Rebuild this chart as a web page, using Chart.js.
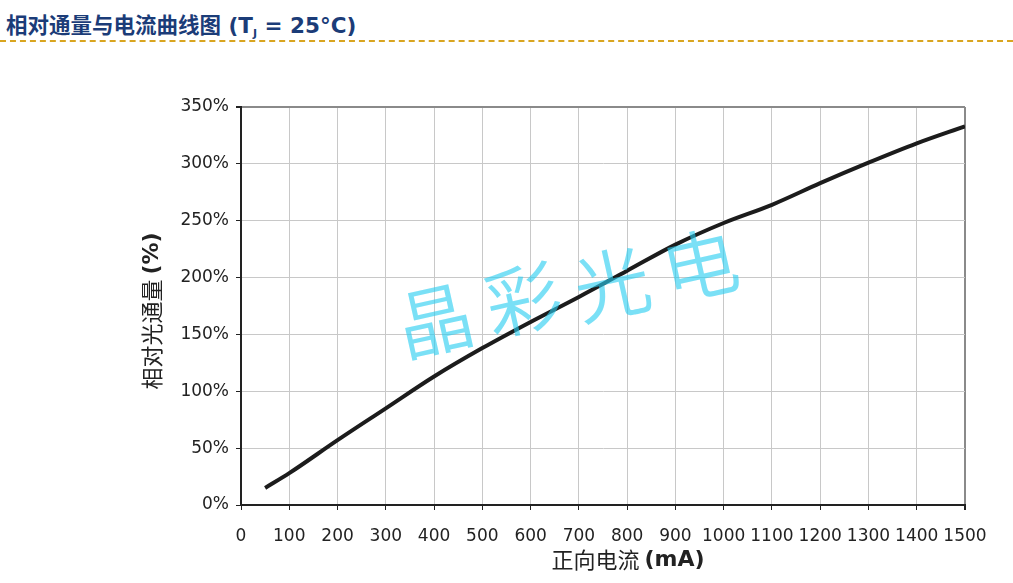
<!DOCTYPE html>
<html>
<head>
<meta charset="utf-8">
<script src="https://cdn.jsdelivr.net/npm/chart.js@4.4.0/dist/chart.umd.min.js"></script>
<style>
  html, body { margin: 0; padding: 0; background: #fff; }
  #wrap { position: relative; width: 1013px; height: 583px; overflow: hidden; }
  #title {
    position: absolute; left: 6px; top: 8px;
    font: bold 21.5px "DejaVu Sans", "Noto Sans CJK SC", sans-serif;
    color: #1b3c78; white-space: nowrap;
  }
  #title sub { font-size: 11px; vertical-align: -4px; }
  #rule {
    position: absolute; left: 0; top: 40px; width: 1013px; height: 0;
    border-top: 2px dashed #d9a520;
  }
  #chart { position: absolute; left: 0; top: 0; }
</style>
</head>
<body>
<div id="wrap">
  <div id="title">相对通量与电流曲线图 (T<sub>J</sub> = 25°C)</div>
  <div id="rule"></div>
  <canvas id="chart" width="1013" height="583"></canvas>
</div>
<script>
// forward current (mA) and relative flux (%)
const currentMA = [50, 100, 200, 300, 400, 500, 600, 700, 800, 900, 1000, 1100, 1200, 1300, 1400, 1500];
const relFlux = [15, 28, 57, 85, 113, 138, 161, 183, 206, 229, 248, 264, 283, 301, 318, 333];

const xTitle = ['正向电流 ', '(mA)'];
const yTitle = ['相对光通量 ', '(%)'];
const watermark = ['晶', '彩', '光', '电'];

const tickFont = { family: '"DejaVu Sans", Verdana, sans-serif', size: 17 };

// axis titles (regular chinese + bold unit) and the watermark
const extrasPlugin = {
  id: 'extras',
  afterDraw(chart) {
    const ctx = chart.ctx;

    // watermark
    ctx.save();
    ctx.fillStyle = 'rgba(40, 205, 240, 0.62)';
    ctx.font = '350 76px "Noto Sans CJK SC", sans-serif';
    ctx.textAlign = 'center';
    ctx.textBaseline = 'middle';
    const centers = [[435, 320], [523, 299], [612, 284], [700, 265]];
    watermark.forEach((ch, i) => {
      ctx.save();
      ctx.translate(centers[i][0], centers[i][1]);
      ctx.rotate(-0.22);
      ctx.fillText(ch, 0, 0);
      ctx.restore();
    });
    ctx.restore();

    function mixed(parts, x, y, rot) {
      ctx.save();
      ctx.translate(x, y);
      ctx.rotate(rot);
      ctx.fillStyle = '#222';
      ctx.textBaseline = 'middle';
      const f1 = '22px "Noto Sans CJK SC", sans-serif';
      const f2 = 'bold 22px "DejaVu Sans", sans-serif';
      ctx.font = f1;
      const w1 = ctx.measureText(parts[0]).width;
      ctx.font = f2;
      const w2 = ctx.measureText(parts[1]).width;
      const start = -(w1 + w2) / 2;
      ctx.textAlign = 'left';
      ctx.font = f1;
      ctx.fillText(parts[0], start, 0);
      ctx.font = f2;
      ctx.fillText(parts[1], start + w1, 0);
      ctx.restore();
    }
    mixed(xTitle, 628, 560, 0);
    mixed(yTitle, 152, 311, -Math.PI / 2);
  }
};

new Chart(document.getElementById('chart'), {
  type: 'line',
  data: {
    datasets: [{
      data: currentMA.map((x, i) => ({ x: x, y: relFlux[i] })),
      borderColor: '#1c1c1c',
      borderWidth: 4,
      pointRadius: 0,
      cubicInterpolationMode: 'monotone',
      fill: false
    }]
  },
  options: {
    responsive: false,
    animation: false,
    layout: { padding: { left: 0, right: 48, top: 107, bottom: 0 } },
    plugins: {
      legend: { display: false },
      tooltip: { enabled: false }
    },
    scales: {
      x: {
        type: 'linear',
        min: 0,
        max: 1500,
        afterFit(scale) { scale.height = 78; },
        ticks: {
          stepSize: 100, color: '#222', font: tickFont, padding: 16, maxRotation: 0,
          callback: (v) => String(v)
        },
        grid: {
          color: (c) => c.tick && c.tick.value === 1500 ? '#8a8a8a' : '#c8c8c8',
          lineWidth: (c) => c.tick && c.tick.value === 1500 ? 2 : 1,
          tickColor: '#222',
          tickLength: 5
        },
        border: { color: '#222', width: 2 }
      },
      y: {
        min: 0,
        max: 350,
        afterFit(scale) { scale.width = 241; },
        ticks: {
          stepSize: 50, color: '#222', font: tickFont, padding: 7,
          callback: (v) => v + '%'
        },
        grid: {
          color: (c) => c.tick && c.tick.value === 350 ? '#8a8a8a' : '#c8c8c8',
          lineWidth: (c) => c.tick && c.tick.value === 350 ? 2 : 1,
          tickColor: '#222',
          tickLength: 5
        },
        border: { color: '#222', width: 2 }
      }
    }
  },
  plugins: [extrasPlugin]
});
</script>
</body>
</html>
